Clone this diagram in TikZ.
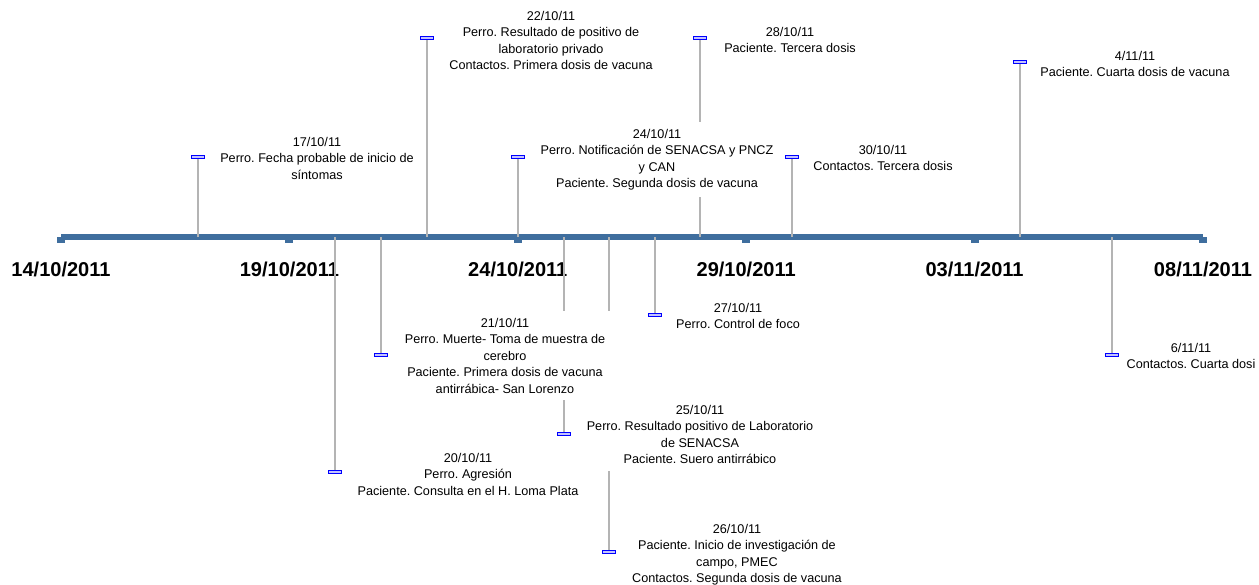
\documentclass[tikz,border=0pt]{standalone}
\usepackage{fontspec}
\setmainfont{Liberation Sans}
\usetikzlibrary{positioning}
\definecolor{axisblue}{RGB}{63,110,158}
\definecolor{stemgray}{RGB}{180,180,180}
\definecolor{flagfill}{RGB}{196,196,255}

\begin{document}
\begin{tikzpicture}[
  x=0.02cm, y=-0.02cm,
  stemline/.style={draw=stemgray, line width=1.1pt},
  flag/.style={rectangle, draw=blue, fill=flagfill, line width=0.5pt,
               minimum width=0.26cm, minimum height=0.07cm, inner sep=0pt},
  eventtext/.style={fill=white, align=center, anchor=north, inner xsep=4.2pt,
                    inner ysep=4pt, font=\fontsize{7.2}{9.4}\selectfont\frenchspacing},
  datelabel/.style={inner sep=0pt, font=\fontsize{11.4}{13}\selectfont\bfseries}
]
  \useasboundingbox (0,0) rectangle (1259,585);

  % time axis
  \fill[axisblue] (61,233.5) rectangle (1203,240);
  \foreach \x/\d [count=\i] in {61/{14/10/2011}, 289.4/{19/10/2011}, 517.8/{24/10/2011},
                                746.2/{29/10/2011}, 974.6/{03/11/2011}, 1203/{08/11/2011}} {
    \fill[axisblue] (\x-4,236.5) rectangle (\x+4,242.5);
    \node[datelabel] (d\i) at (\x,269) {\d};
  }

  % events: axis point, flag and stem
  \foreach \n/\x/\y in {e17/198/157, e20/335/472, e21/381/355, e22/427/38,
                        e24/518/157, e25/564/434, e26/609/552, e27/655/315,
                        e28/700/38, e30/792/157, e04/1020/62, e06/1112/355} {
    \coordinate (a\n) at (\x,237);
    \node[flag] (m\n) at (\x,\y) {};
    \draw[stemline] (a\n) -- (m\n);
  }

  % above the axis
  \node[eventtext] (t17) at (317,129.5) {17/10/11\\Perro. Fecha probable de inicio de\\síntomas};
  \node[eventtext] (t22) at (551,3.5) {22/10/11\\Perro. Resultado de positivo de\\laboratorio privado\\Contactos. Primera dosis de vacuna};
  \node[eventtext] (t24) at (657,121.5) {24/10/11\\Perro. Notificación de SENACSA y PNCZ\\y CAN\\Paciente. Segunda dosis de vacuna};
  \node[eventtext] (t28) at (790,19.5) {28/10/11\\Paciente. Tercera dosis};
  \node[eventtext] (t30) at (883,137.5) {30/10/11\\Contactos. Tercera dosis};
  \node[eventtext] (t04) at (1135,43.5) {4/11/11\\Paciente. Cuarta dosis de vacuna};

  % below the axis
  \node[eventtext] (t20) at (468,445.5) {20/10/11\\Perro. Agresión\\Paciente. Consulta en el H. Loma Plata};
  \node[eventtext] (t21) at (505,310.5) {21/10/11\\Perro. Muerte- Toma de muestra de\\cerebro\\Paciente. Primera dosis de vacuna\\antirrábica- San Lorenzo};
  \node[eventtext] (t25) at (700,397.5) {25/10/11\\Perro. Resultado positivo de Laboratorio\\de SENACSA\\Paciente. Suero antirrábico};
  \node[eventtext] (t26) at (737,516.5) {26/10/11\\Paciente. Inicio de investigación de\\campo, PMEC\\Contactos. Segunda dosis de vacuna};
  \node[eventtext] (t27) at (738,295.5) {27/10/11\\Perro. Control de foco};
  \node[eventtext] (t06) at (1191,335.5) {6/11/11\\Contactos. Cuarta dosi};
\end{tikzpicture}
\end{document}
